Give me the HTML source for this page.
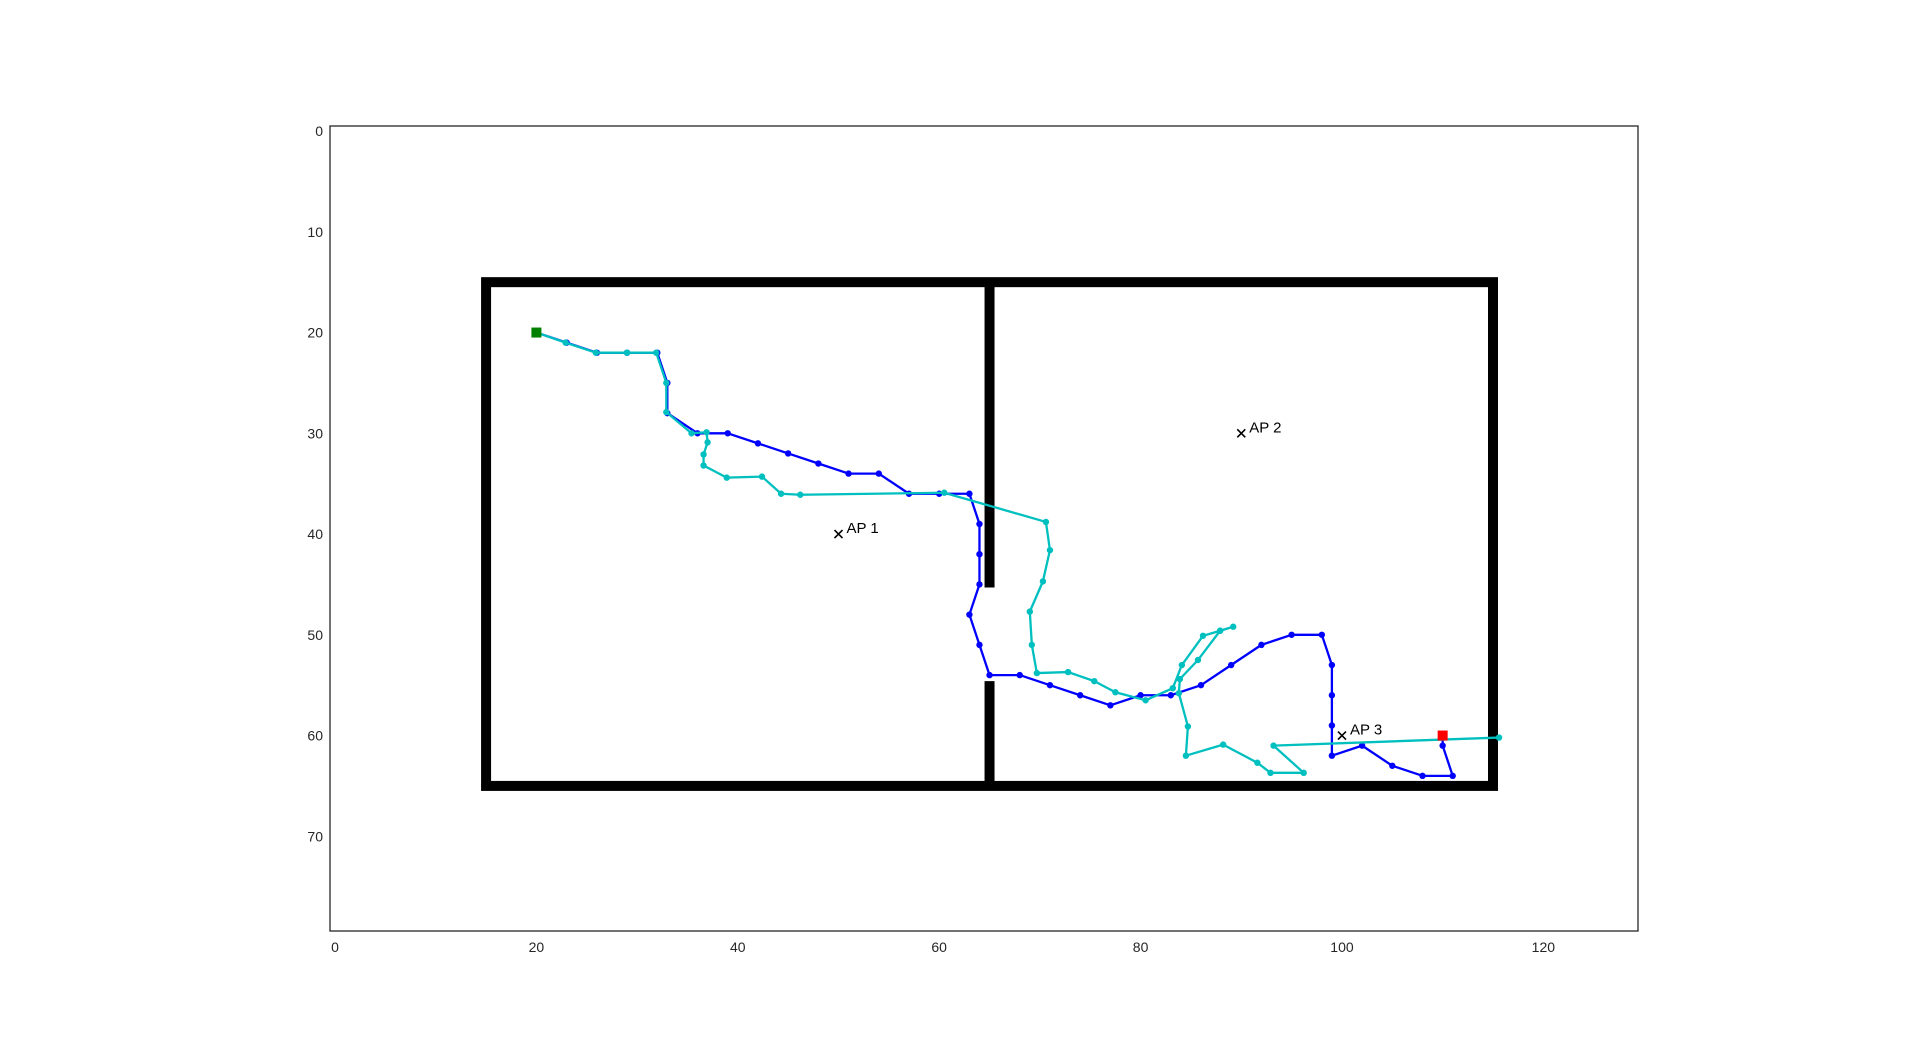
<!DOCTYPE html>
<html><head><meta charset="utf-8"><style>
html,body{margin:0;padding:0;background:#fff;width:1920px;height:1046px;overflow:hidden}
svg{display:block;font-family:"Liberation Sans",Arial,sans-serif}
</style></head><body>
<svg id="chart" width="1920" height="1046" viewBox="0 0 1920 1046" xmlns="http://www.w3.org/2000/svg"></svg>
<script>
const xTicks = [0,20,40,60,80,100,120];
const yTicks = [0,10,20,30,40,50,60,70];
const blueX = [20,23,26,29,32,33,33,36,39,42,45,48,51,54,57,60,63,64,64,64,63,64,65,68,71,74,77,80,83,86,89,92,95,98,99,99,99,99,102,105,108,111,110,110];
const blueY = [20,21,22,22,22,25,28,30,30,31,32,33,34,34,36,36,36,39,42,45,48,51,54,54,55,56,57,56,56,55,53,51,50,50,53,56,59,62,61,63,64,64,61,60];
const cyanX = [20,22.9,25.9,29,31.9,32.9,32.9,35.4,36.9,37,36.6,36.6,38.9,42.4,44.3,46.2,60.5,70.6,71,70.3,69,69.2,69.7,72.8,75.4,77.5,80.5,83.2,84.1,86.2,87.9,89.2,87.9,85.7,83.9,83.8,84.7,84.5,88.2,91.6,92.9,96.2,93.2,115.6];
const cyanY = [20,21,22,22,22,25,27.9,30,29.9,30.9,32.1,33.2,34.4,34.3,36,36.1,35.9,38.8,41.6,44.7,47.7,51,53.8,53.7,54.6,55.7,56.5,55.3,53,50.1,49.6,49.2,49.6,52.5,54.4,55.8,59.1,62,60.9,62.7,63.7,63.7,61,60.2];
const apNames = ["AP 1","AP 2","AP 3"];
const apX = [50,90,100];
const apY = [40,30,60];
const startPt = [20,20];
const endPt = [110,60];

const svg = document.getElementById('chart');
const NS = 'http://www.w3.org/2000/svg';
const L=330,T=126,R=1638,B=931;
const xmin=-0.5,xmax=129.4,ymin=-0.5,ymax=79.4;
const sx = d => L + (d - xmin)/(xmax - xmin)*(R-L);
const sy = d => T + (d - ymin)/(ymax - ymin)*(B-T);
function mk(tag, attrs){const e=document.createElementNS(NS,tag);for(const k in attrs)e.setAttribute(k,attrs[k]);svg.appendChild(e);return e;}

let fr = mk('rect',{x:L,y:T,width:R-L,height:B-T,fill:'none',stroke:'#262626','stroke-width':1.3});


xTicks.forEach(v=>{
  const t=mk('text',{x:sx(v),y:952,'text-anchor':'middle','font-size':14,fill:'#262626'});
  t.textContent=v;
  
  
});
yTicks.forEach(v=>{
  const t=mk('text',{x:323,y:sy(v)+5,'text-anchor':'end','font-size':14,fill:'#262626'});
  t.textContent=v;
  
  
});
let w=mk('rect',{x:sx(15),y:sy(15),width:sx(115)-sx(15),height:sy(65)-sy(15),fill:'none',stroke:'#000','stroke-width':10});


let w1=mk('line',{x1:sx(65),y1:sy(15),x2:sx(65),y2:sy(45.3),stroke:'#000','stroke-width':10});


let w2=mk('line',{x1:sx(65),y1:sy(54.6),x2:sx(65),y2:sy(65),stroke:'#000','stroke-width':10});



function series(xs,ys,color,name){
  const pts=xs.map((x,i)=>sx(x)+','+sy(ys[i])).join(' ');
  const p=mk('polyline',{points:pts,fill:'none',stroke:color,'stroke-width':2.3,'stroke-linejoin':'round'});
  
  
  xs.forEach((x,i)=>{
    const c=mk('circle',{cx:sx(x),cy:sy(ys[i]),r:3.2,fill:color});
    
    
  });
}
series(blueX,blueY,'#0000ff','true-path');
series(cyanX,cyanY,'#00bfbf','estimated-path');

apX.forEach((x,i)=>{
  const cx=sx(x),cy=sy(apY[i]);
  const m=mk('path',{d:`M${cx-4},${cy-4}L${cx+4},${cy+4}M${cx-4},${cy+4}L${cx+4},${cy-4}`,stroke:'#000','stroke-width':1.6});
  
  
  const t=mk('text',{x:cx+8,y:cy-1,'font-size':15,fill:'#000'});
  t.textContent=apNames[i];
  
  
});
let s=mk('rect',{x:sx(startPt[0])-5,y:sy(startPt[1])-5,width:10,height:10,fill:'#008000'});


let e=mk('rect',{x:sx(endPt[0])-5,y:sy(endPt[1])-5,width:10,height:10,fill:'#ff0000'});


</script>
</body></html>
